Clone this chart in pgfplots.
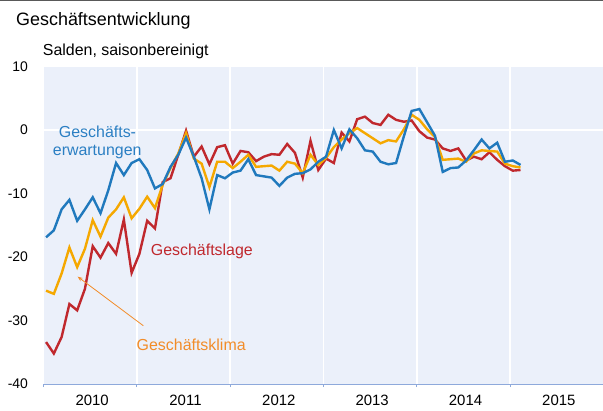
\documentclass[border=0pt]{standalone}
\usepackage{pgfplots}
\pgfplotsset{compat=1.18}
\usepackage{pgfplotstable}
\usepackage{fontspec}
\setmainfont{Liberation Sans}
\usetikzlibrary{arrows.meta}
\definecolor{bgblue}{HTML}{EBF0FA}
\definecolor{tickblue}{HTML}{8EA9DB}
\definecolor{cblue}{HTML}{2079BD}
\definecolor{cred}{HTML}{C0282D}
\definecolor{cyellow}{HTML}{F5A800}
\definecolor{corange}{HTML}{F28C28}
\definecolor{tblue}{HTML}{2B7FC3}

\pgfplotstableread{
m lage klima erw
0 -33.4 -25.3 -16.9
1 -35.2 -25.8 -15.8
2 -32.6 -22.6 -12.5
3 -27.4 -18.5 -11.0
4 -28.4 -21.6 -14.3
5 -25.0 -18.7 -12.5
6 -18.3 -14.2 -10.6
7 -20.1 -16.8 -13.1
8 -17.8 -13.8 -9.5
9 -19.5 -12.5 -5.2
10 -14.1 -10.6 -7.1
11 -22.5 -13.9 -5.2
12 -19.5 -12.4 -4.6
13 -14.3 -10.5 -6.3
14 -15.5 -12.3 -9.2
15 -8.2 -8.6 -8.5
16 -7.6 -6.0 -5.8
17 -3.9 -3.7 -3.9
18 -0.1 -0.5 -1.2
19 -4.2 -4.5 -4.2
20 -2.6 -5.3 -7.6
21 -5.4 -9.0 -12.5
22 -2.7 -5.0 -7.1
23 -2.4 -5.0 -7.6
24 -5.3 -6.0 -6.7
25 -3.3 -5.0 -6.4
26 -3.5 -3.9 -4.6
27 -4.9 -5.8 -7.1
28 -4.2 -5.7 -7.3
29 -3.8 -5.6 -7.5
30 -3.9 -6.4 -8.8
31 -2.2 -5.0 -7.5
32 -3.6 -5.3 -6.9
33 -7.5 -6.8 -6.8
34 -1.7 -3.9 -6.2
35 -6.3 -5.5 -5.0
36 -4.5 -4.4 -4.2
37 -5.2 -2.7 0.0
38 -0.4 -1.5 -2.9
39 -1.8 -0.5 0.1
40 1.7 0.3 -1.3
41 2.1 -0.5 -3.2
42 1.1 -1.3 -3.4
43 0.8 -2.1 -5.0
44 2.4 -1.6 -5.4
45 1.6 -1.8 -5.2
46 1.3 0.1 -1.0
47 1.5 2.4 3.0
48 -0.2 1.6 3.3
49 -1.2 0.1 1.2
50 -1.5 -1.1 -0.9
51 -2.9 -4.7 -6.6
52 -3.3 -4.6 -6.0
53 -2.9 -4.5 -5.9
54 -4.8 -5.0 -4.8
55 -4.2 -3.7 -3.2
56 -4.6 -3.2 -1.5
57 -3.5 -3.3 -2.9
58 -4.7 -3.4 -2.0
59 -5.7 -5.3 -5.0
60 -6.4 -5.7 -4.8
61 -6.3 -5.9 -5.5
}\datatable

\begin{document}
\begin{tikzpicture}[x=1bp,y=1bp]
\path[use as bounding box] (0,0) rectangle (603,410);
\begin{axis}[
  at={(43.5bp,26bp)}, anchor=south west, scale only axis,
  width=560bp, height=317.5bp,
  xmin=0, xmax=72, ymin=-40, ymax=10,
  axis background/.style={fill=bgblue},
  axis lines*=left,
  x axis line style={draw=tickblue, line width=1bp},
  y axis line style={draw=none},
  xtick={0,12,...,72}, xticklabels={},
  x tick style={draw=tickblue, line width=1bp},
  tick align=outside, major tick length=3bp,
  xmajorgrids, major grid style={white, line width=1.6bp},
  ytick={-40,-30,...,10}, yticklabels={-40,-30,-20,-10,0,10},
  y tick style={draw=none},
  yticklabel style={font=\fontsize{14}{16}\selectfont, anchor=east, xshift=-9bp},
  extra x ticks={6,18,30,42,54,66},
  extra x tick labels={2010,2011,2012,2013,2014,2015},
  extra x tick style={grid=none, major tick length=0pt,
     tick label style={font=\fontsize{15}{17}\selectfont, yshift=-8bp, xshift=2bp}},
  clip=false,
]
\draw[white, line width=2bp] (axis cs:0,0) -- (axis cs:72,0);
\addplot[cred, line width=2.4bp, no markers] table[x expr=\thisrow{m}+0.33, y=lage] {\datatable};
\addplot[cyellow, line width=2.4bp, no markers] table[x expr=\thisrow{m}+0.33, y=klima] {\datatable};
\addplot[cblue, line width=2.4bp, no markers] table[x expr=\thisrow{m}+0.33, y=erw] {\datatable};
\end{axis}
\draw[gray!70!black, line width=1.2bp] (0,409.4) -- (603,409.4);
\node[anchor=base west, inner sep=0, font=\fontsize{18}{20}\selectfont] at (16,384.5) {Geschäftsentwicklung};
\node[anchor=base west, inner sep=0, font=\fontsize{16}{18}\selectfont] at (42.7,355) {Salden, saisonbereinigt};
\node[anchor=base, inner sep=0, text=tblue, font=\fontsize{16}{18}\selectfont] at (97.5,272.5) {Geschäfts-};
\node[anchor=base, inner sep=0, text=tblue, font=\fontsize{16}{18}\selectfont] at (97.2,255) {erwartungen};
\node[anchor=base west, inner sep=0, text=cred, font=\fontsize{16}{18}\selectfont] at (150.7,155) {Geschäftslage};
\node[anchor=base west, inner sep=0, text=corange, font=\fontsize{16}{18}\selectfont] at (136.5,60) {Geschäftsklima};
\draw[corange, line width=0.8bp, -{Stealth[length=5bp,width=4bp]}] (143.3,84.3) -- (77.7,133.3);
\end{tikzpicture}
\end{document}
